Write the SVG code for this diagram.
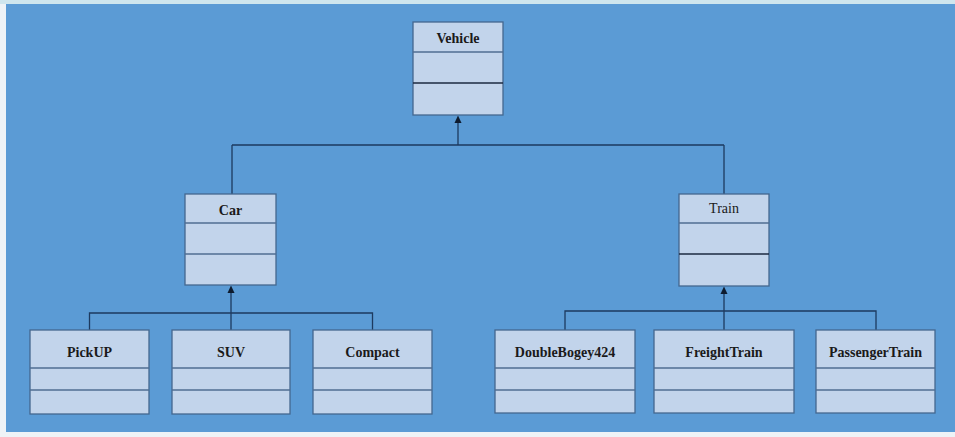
<svg xmlns="http://www.w3.org/2000/svg" width="955" height="437" viewBox="0 0 955 437">
<defs>
<style>
.box{fill:#C2D4EB;stroke:#44678F;stroke-width:1.3}
.div{stroke:#4F6E92;stroke-width:1.3}
.dk{stroke:#1B2A40;stroke-width:1.5}
.t{font-family:"Liberation Serif","Times New Roman",serif;font-size:14px;font-weight:bold;fill:#1a1a1a;text-anchor:middle}
.n{font-weight:normal}
.c{fill:none;stroke:#1D3A5F;stroke-width:1.3}
.ah{fill:#0E1B2E}
</style>
</defs>
<rect x="0" y="0" width="955" height="437" fill="#EEF3F7"/>
<rect x="0" y="0" width="955" height="4" fill="#CFE6EE"/>
<rect x="6" y="4" width="949" height="428" fill="#5B9BD5"/>
<g id="connectors">
<path class="c" d="M232,145 H724 M232,145 V194 M724,145 V194"/>
<path class="c" d="M458,145 V120"/>
<polygon class="ah" points="454.5,123 458,115.5 461.5,123"/>
<path class="c" d="M89.5,330 V313 H372.5 V330 M231,330 V290"/>
<polygon class="ah" points="227.5,293 231,285.5 234.5,293"/>
<path class="c" d="M565,330 V311 H876 V330 M724,330 V291"/>
<polygon class="ah" points="720.5,294 724,286.5 727.5,294"/>
</g>
<g id="Vehicle">
<rect class="box" x="413" y="22" width="90" height="93"/>
<line class="div" x1="413" y1="52" x2="503" y2="52"/>
<line class="dk" x1="413" y1="83" x2="503" y2="83"/>
<text class="t" x="458" y="43">Vehicle</text>
</g>
<g id="Car">
<rect class="box" x="185" y="194" width="91" height="91"/>
<line class="div" x1="185" y1="223" x2="276" y2="223"/>
<line class="div" x1="185" y1="254" x2="276" y2="254"/>
<text class="t" x="230.5" y="215">Car</text>
</g>
<g id="Train">
<rect class="box" x="679" y="194" width="90" height="92"/>
<line class="div" x1="679" y1="223" x2="769" y2="223"/>
<line class="dk" x1="679" y1="254" x2="769" y2="254"/>
<text class="t n" x="724" y="213">Train</text>
</g>
<g id="PickUP">
<rect class="box" x="30" y="330" width="119" height="84"/>
<line class="div" x1="30" y1="368" x2="149" y2="368"/>
<line class="div" x1="30" y1="390" x2="149" y2="390"/>
<text class="t" x="89.5" y="357">PickUP</text>
</g>
<g id="SUV">
<rect class="box" x="172" y="330" width="118" height="84"/>
<line class="div" x1="172" y1="368" x2="290" y2="368"/>
<line class="div" x1="172" y1="390" x2="290" y2="390"/>
<text class="t" x="231" y="357">SUV</text>
</g>
<g id="Compact">
<rect class="box" x="313" y="330" width="119" height="84"/>
<line class="div" x1="313" y1="368" x2="432" y2="368"/>
<line class="div" x1="313" y1="390" x2="432" y2="390"/>
<text class="t" x="372.5" y="357">Compact</text>
</g>
<g id="DoubleBogey424">
<rect class="box" x="495" y="330" width="140" height="83"/>
<line class="div" x1="495" y1="368" x2="635" y2="368"/>
<line class="div" x1="495" y1="390" x2="635" y2="390"/>
<text class="t" x="565" y="357">DoubleBogey424</text>
</g>
<g id="FreightTrain">
<rect class="box" x="654" y="330" width="140" height="83"/>
<line class="div" x1="654" y1="368" x2="794" y2="368"/>
<line class="div" x1="654" y1="390" x2="794" y2="390"/>
<text class="t" x="724" y="357">FreightTrain</text>
</g>
<g id="PassengerTrain">
<rect class="box" x="816" y="330" width="119" height="83"/>
<line class="div" x1="816" y1="368" x2="935" y2="368"/>
<line class="div" x1="816" y1="390" x2="935" y2="390"/>
<text class="t" x="875.5" y="357">PassengerTrain</text>
</g>
</svg>
